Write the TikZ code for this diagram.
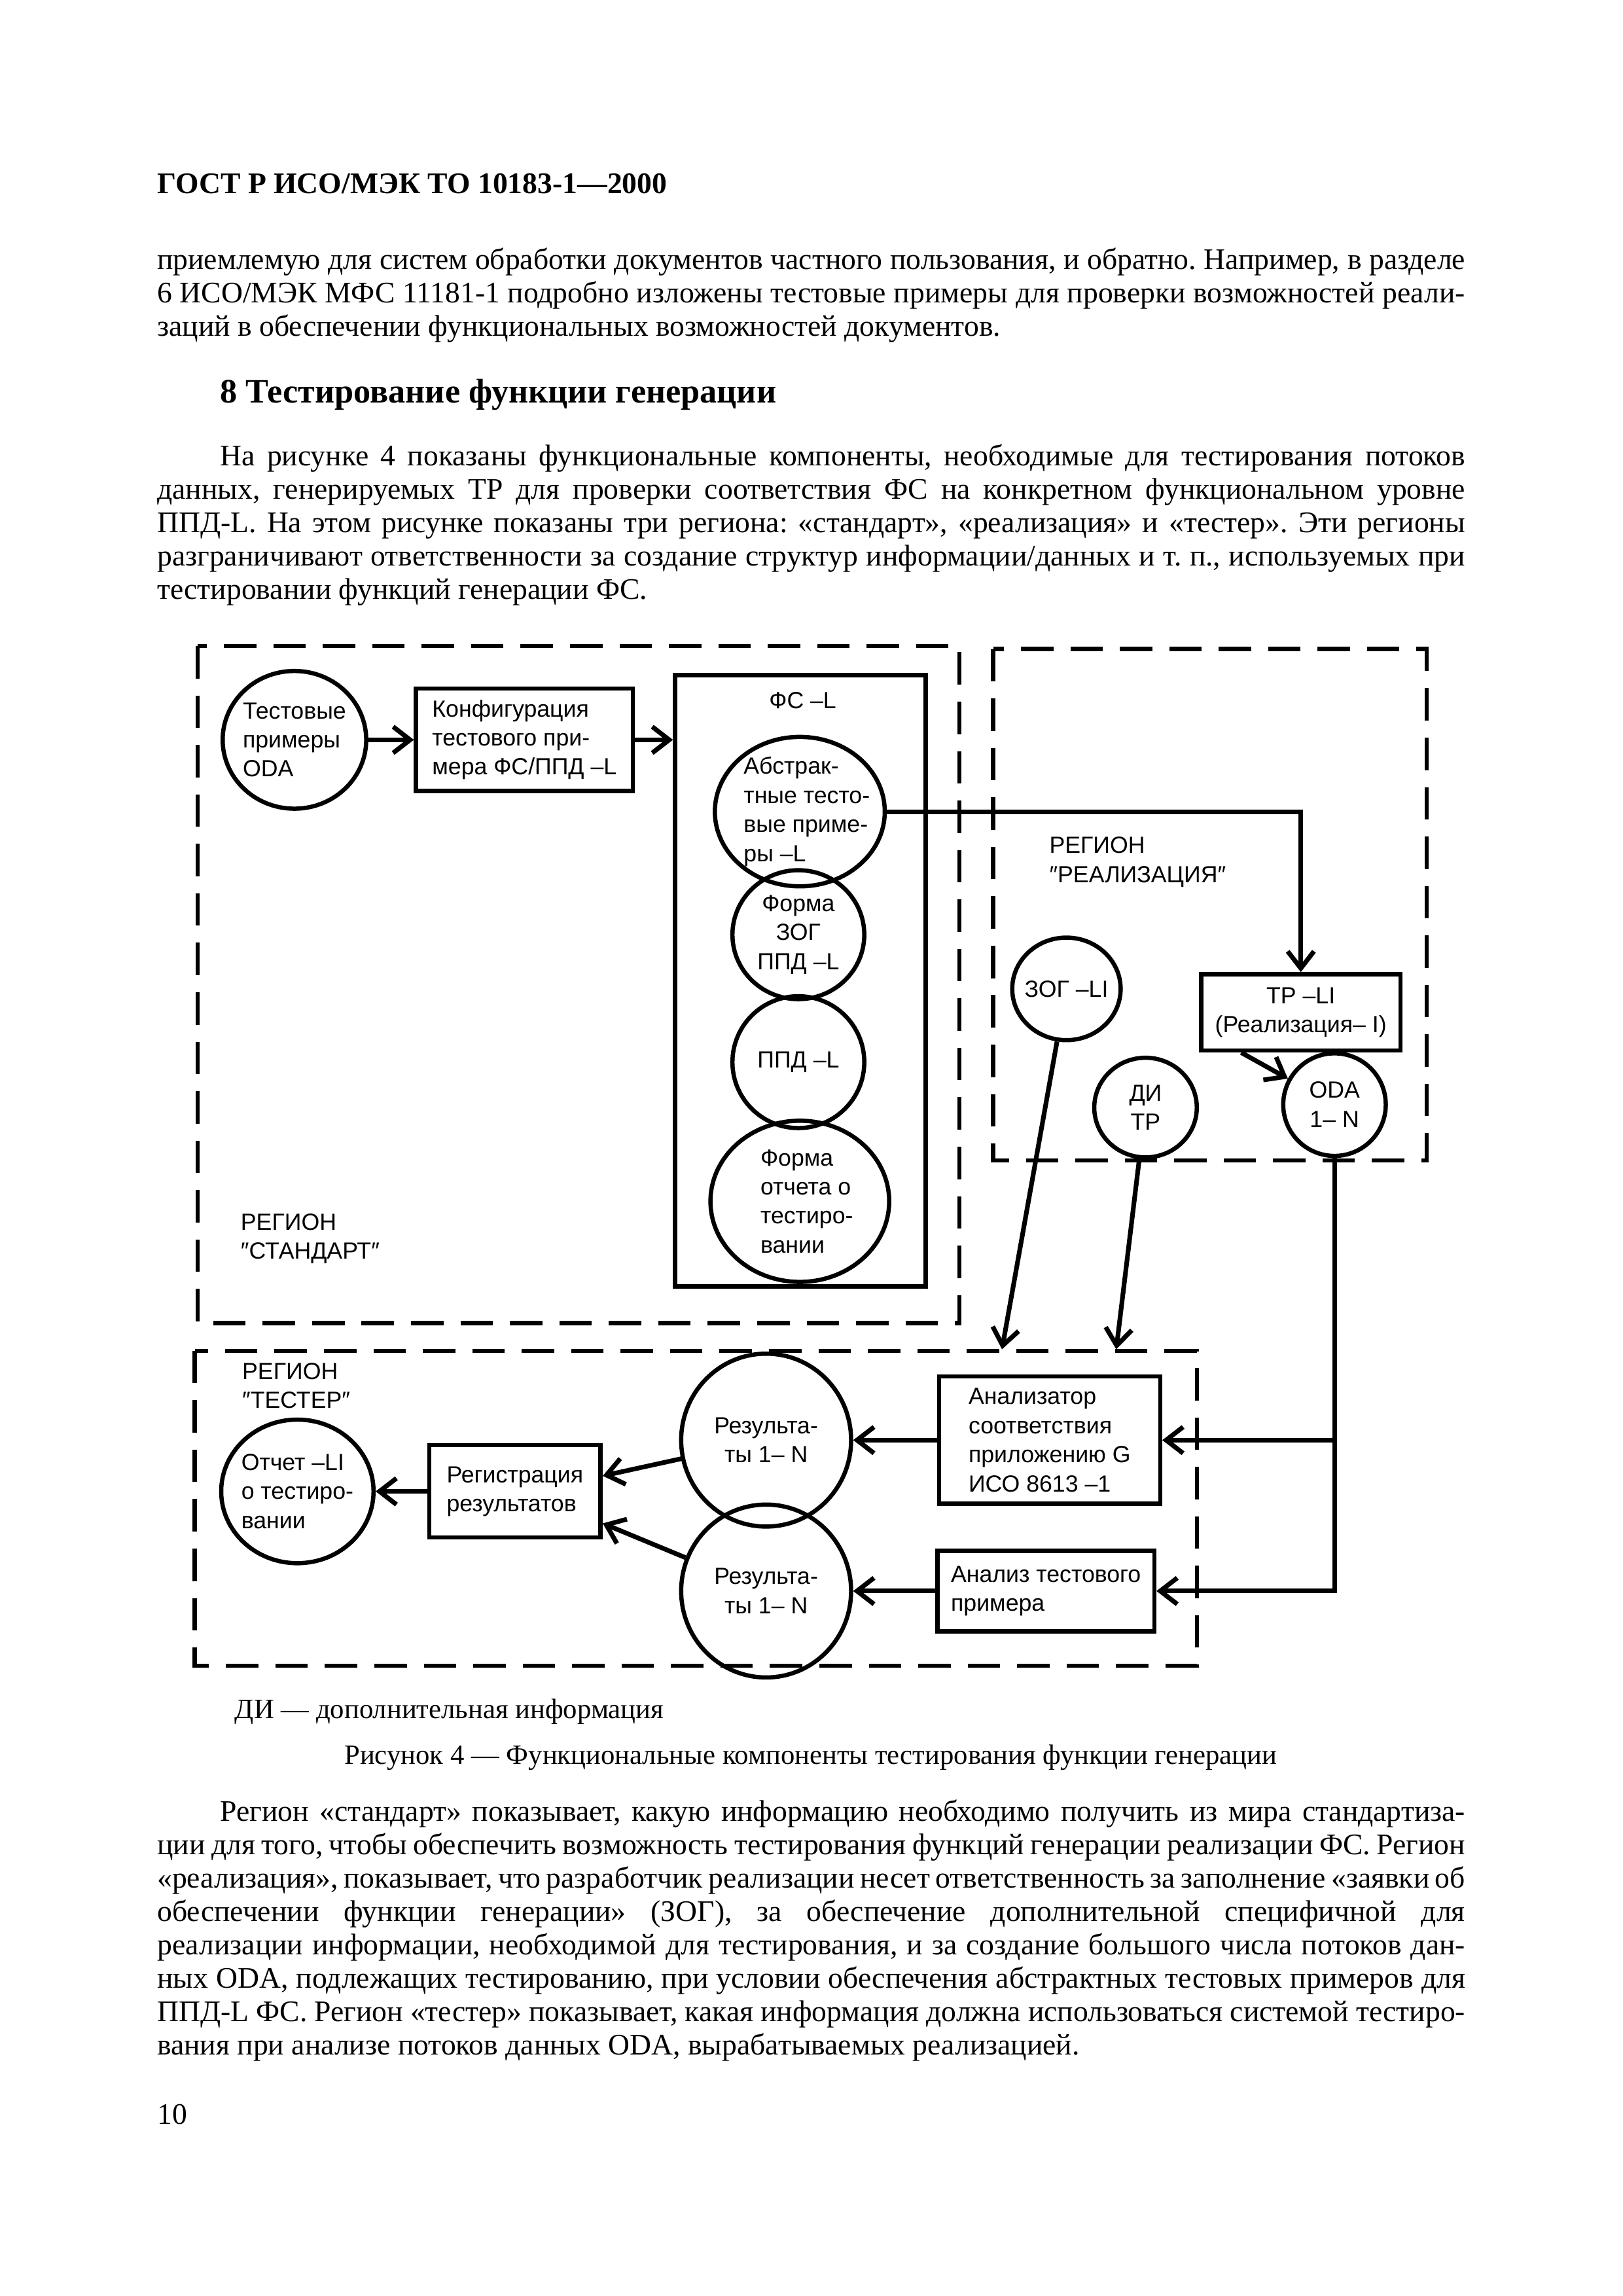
\documentclass[tikz,border=0pt]{standalone}
\usepackage{fontspec}
\setmainfont{Liberation Serif}
\setsansfont{Liberation Sans}
\usetikzlibrary{arrows.meta,shapes.geometric}

\newlength{\txtw}\setlength{\txtw}{169.3mm}
\newlength{\parind}\setlength{\parind}{8.15mm}
% the font's own interword glue (TikZ's align sets a rigid one)
\newcommand{\natspace}{\spaceskip=0pt\xspaceskip=0pt\frenchspacing}
% one justified line of the page text
\newcommand{\jline}[1]{\makebox[\txtw][s]{#1}}
\newcommand{\jfirst}[1]{\hspace*{\parind}\makebox[\dimexpr\txtw-\parind\relax][s]{#1}}

\begin{document}
\begin{tikzpicture}[x=0.1896mm,y=-0.1896mm,
  txt/.style={font=\fontsize{11}{12.3}\selectfont, inner sep=0pt, text width=\txtw, align=left, anchor=base west},
  lbl/.style={font=\sffamily\fontsize{8.6}{10.7}\selectfont, inner sep=0pt},
  sz/.style 2 args={minimum width=#1*0.1896mm, minimum height=#2*0.1896mm},
  ell/.style={draw, ellipse, line width=0.55mm, inner sep=0pt},
  box/.style={lbl, draw, rectangle, line width=0.55mm, inner sep=0pt, align=left},
  frame/.style={draw, rectangle, line width=0.6mm, inner sep=0pt},
  inside/.style={label={[lbl,align=left]center:{#1}}},
  insider/.style={label={[lbl,align=left,xshift=0.9mm]center:{#1}}},
  insidec/.style={label={[lbl,align=center]center:{#1}}},
  arr/.style={line width=0.6mm, -{Straight Barb[length=2.2mm,width=3.4mm]}},
  region/.style={line width=0.55mm, dash pattern=on 4.2mm off 2.2mm}]
  \path[use as bounding box, fill=white] (0mm,0mm) rectangle (210mm,-297.15mm);

  % page text above the figure
  \node[font=\bfseries\fontsize{11}{14}\selectfont, inner sep=0pt, anchor=base west] (gost) at (107,132) {ГОСТ Р ИСО/МЭК ТО 10183-1—2000};
  \node[txt] (par1) at (107,184) {\natspace\jline{приемлемую для систем обработки документов частного пользования, и обратно. Например, в разделе}\\
    \jline{6 ИСО/МЭК МФС 11181-1 подробно изложены тестовые примеры для проверки возможностей реали-}\\
    заций в обеспечении функциональных возможностей документов.};
  \node[font=\bfseries\fontsize{12.6}{15}\selectfont, inner sep=0pt, anchor=base west] (sec) at (150,275) {8 Тестирование функции генерации};
  \node[txt] (par2) at (107,318) {\natspace\jfirst{На рисунке 4 показаны функциональные компоненты, необходимые для тестирования потоков}\\
    \jline{данных, генерируемых ТР для проверки соответствия ФС на конкретном функциональном уровне}\\
    \jline{ППД-L. На этом рисунке показаны три региона: «стандарт», «реализация» и «тестер». Эти регионы}\\
    \jline{разграничивают ответственности за создание структур информации/данных и т. п., используемых при}\\
    тестировании функций генерации ФС.};

  % regions
  \draw[region] (135,441) rectangle (655,903);
  \draw[region] (678,443) rectangle (974,792);
  \draw[region] (133,922) rectangle (817,1137);

  % region "standard"
  \node[ell, sz={98}{94}, inside={Тестовые\\примеры\\ODA}] (odat) at (201,505) {};
  \node[box, sz={148}{70}] (cfg) at (358,505) {Конфигурация\\тестового при-\\мера ФС/ППД –L};
  \node[frame, sz={171}{417}] (fsl) at (546.5,669.5) {};
  \node[lbl] (fslt) at (548,478) {ФС –L};
  \node[ell, sz={116}{102}, insider={Абстрак-\\тные тесто-\\вые приме-\\ры –L}] (abs) at (546,554) {};
  \node[ell, sz={90}{88}, insidec={Форма\\ЗОГ\\ППД –L}] (zogf) at (545,638) {};
  \node[ell, sz={90}{90}, insidec={ППД –L}] (ppd) at (545,725) {};
  \node[ell, sz={122}{110}, insider={Форма\\отчета о\\тестиро-\\вании}] (otch) at (546,820) {};
  \node[lbl, align=left, anchor=north west] (rst) at (164,828) {РЕГИОН\\″СТАНДАРТ″};

  % region "implementation"
  \node[lbl, align=left, anchor=north west] (rre) at (716,571) {РЕГИОН\\″РЕАЛИЗАЦИЯ″};
  \node[ell, sz={74}{70}, insidec={ЗОГ –LI}] (zogli) at (728,675) {};
  \node[box, sz={136}{52}, align=center] (tpli) at (888,691) {ТР –LI\\(Реализация– I)};
  \node[ell, sz={70}{68}, insidec={ДИ\\ТР}] (ditr) at (782,756) {};
  \node[ell, sz={70}{70}, insidec={ODA\\1– N}] (oda) at (911,754) {};

  % region "tester"
  \node[lbl, align=left, anchor=north west] (rts) at (165,930) {РЕГИОН\\″ТЕСТЕР″};
  \node[ell, sz={104}{98}, inside={Отчет –LI\\о тестиро-\\вании}] (rep) at (203,1018) {};
  \node[box, sz={117}{63}] (reg) at (351.5,1018) {Регистрация\\результатов};
  \node[ell, sz={116}{118}, insidec={Результа-\\ты 1– N}] (res1) at (523,983) {};
  \node[ell, sz={116}{118}, insidec={Результа-\\ты 1– N}] (res2) at (523,1086) {};
  \node[box, sz={151}{87}] (anlz) at (716.5,983) {Анализатор\\соответствия\\приложению G\\ИСО 8613 –1};
  \node[box, sz={148}{55}] (antp) at (714,1086) {Анализ тестового\\примера};
  \coordinate (zogend) at (684,921);
  \coordinate (ditrend) at (762,921);

  % connectors
  \draw[arr] (odat.east) -- (cfg.west);
  \draw[arr] (cfg.east) -- (cfg.east -| fsl.west);
  \draw[arr] (abs.east) -| (tpli.north);
  \draw[arr] (tpli.214) -- (oda);
  \draw[arr] (zogli) -- (zogend);
  \draw[arr] (ditr) -- (ditrend);
  \draw[arr] (oda.south) |- (anlz.east);
  \draw[arr] (oda.south) |- (antp.east);
  \draw[arr] (anlz.west) -- (res1);
  \draw[arr] (antp.west) -- (res2);
  \draw[arr] (res1) -- (reg.10);
  \draw[arr] (res2) -- (reg.-20);
  \draw[arr] (reg.west) -- (rep);

  % caption and text below
  \node[font=\fontsize{10.3}{12}\selectfont, inner sep=0pt, anchor=base west] (note) at (160,1173) {ДИ — дополнительная информация};
  \node[font=\fontsize{10.3}{12}\selectfont, inner sep=0pt, anchor=base] (cap) at (553.5,1204) {Рисунок 4 — Функциональные компоненты тестирования функции генерации};
  \node[txt] (par3) at (107,1243) {\natspace\jfirst{Регион «стандарт» показывает, какую информацию необходимо получить из мира стандартиза-}\\
    \jline{ции для того, чтобы обеспечить возможность тестирования функций генерации реализации ФС. Регион}\\
    \jline{«реализация», показывает, что разработчик реализации несет ответственность за заполнение «заявки об}\\
    \jline{обеспечении функции генерации» (ЗОГ), за обеспечение дополнительной специфичной для}\\
    \jline{реализации информации, необходимой для тестирования, и за создание большого числа потоков дан-}\\
    \jline{ных ODA, подлежащих тестированию, при условии обеспечения абстрактных тестовых примеров для}\\
    \jline{ППД-L ФС. Регион «тестер» показывает, какая информация должна использоваться системой тестиро-}\\
    вания при анализе потоков данных ODA, вырабатываемых реализацией.};
  \node[font=\fontsize{11}{13}\selectfont, inner sep=0pt, anchor=base west] (pnum) at (107,1450) {10};
\end{tikzpicture}
\end{document}
